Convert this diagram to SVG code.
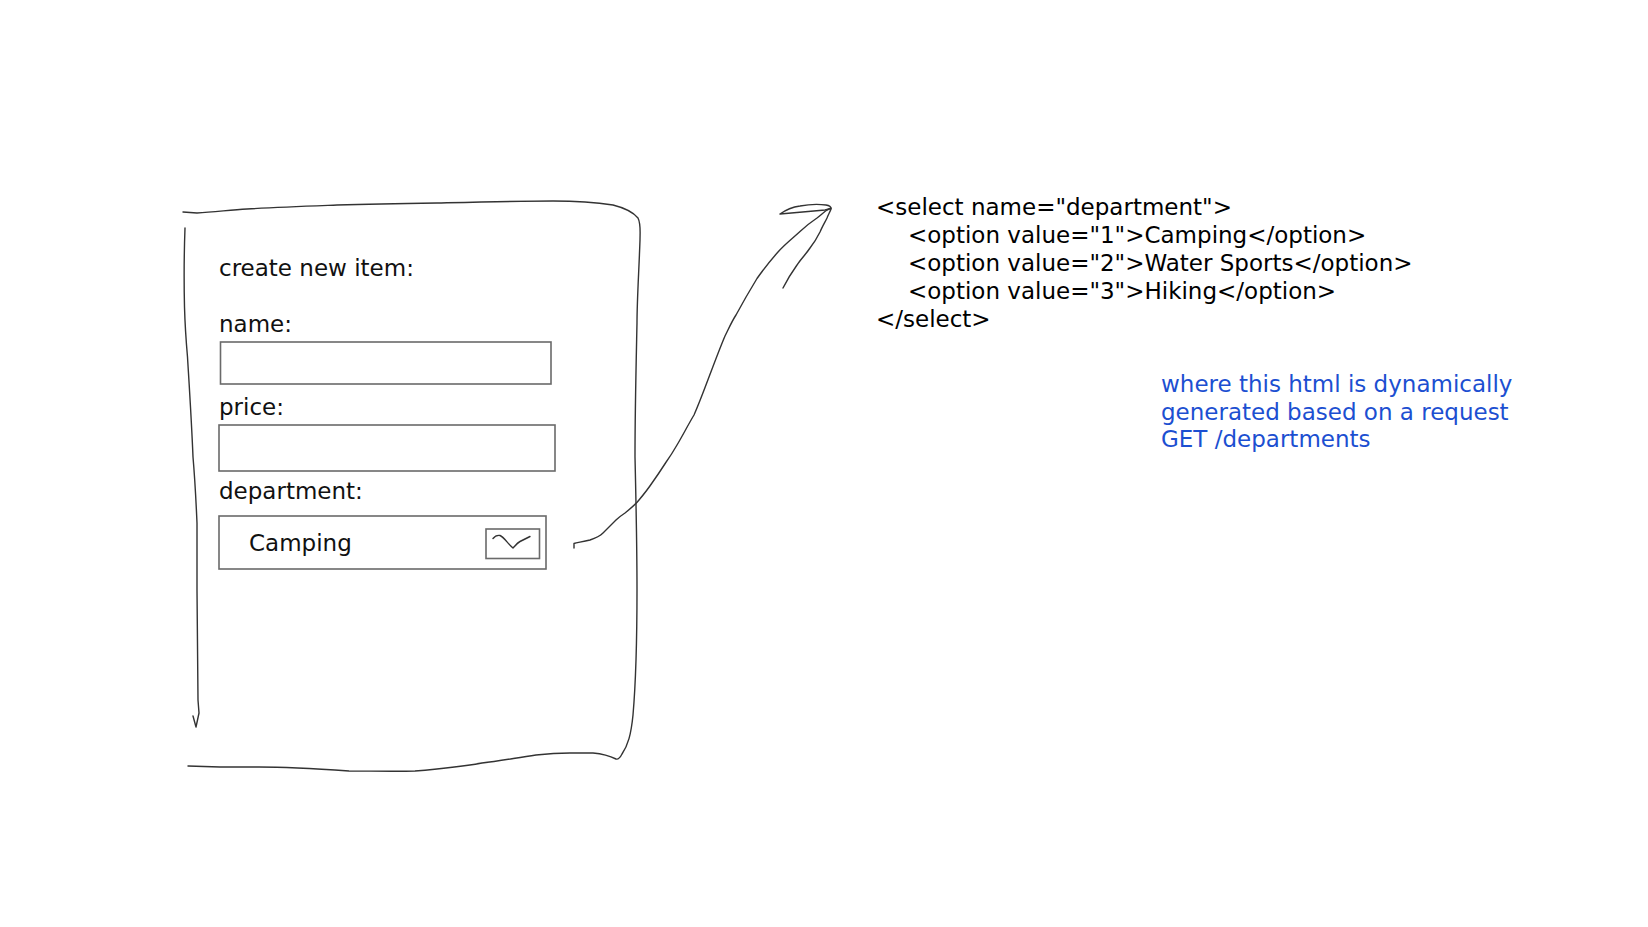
<svg xmlns="http://www.w3.org/2000/svg" width="1648" height="927" viewBox="0 0 1648 927">
<style>
  text { font-family: "DejaVu Sans", Verdana, sans-serif; font-size: 23px; fill: #111; }
  .code { font-size: 23px; fill: #000; }
  .note { fill: #1c4fd1; }
  .sketch { fill: none; stroke: #333; stroke-width: 1.4; stroke-linecap: round; stroke-linejoin: round; }
  .field { fill: #fff; stroke: #6a6a6a; stroke-width: 1.6; }
</style>
<rect width="1648" height="927" fill="#fff"/>

<g id="form">
  <path class="sketch" d="M183,212 L197,213 C215,212 230,210 247,209 C280,207 310,206 337,205 C370,204 400,203.5 437,203 C480,202 520,201 553,201 C580,201 600,203 613,205 C625,208 633,212 638,218 C641,224 640,232 640,240 C639,270 637,300 637,323 C636,370 635,410 635,457 C636,500 637,545 637,590 C637,630 636,680 633,715 C631,735 628,745 622,754 C620,758 618,759.5 616,759 C610,756 604,754 593,753 L570,753 C555,753 545,754 536,755 C515,758 500,761 482,763 C460,767 440,769 415,771 C395,771.5 370,771 349,771 C320,769 290,767 259,767 L220,767 L188,766"/>
  <path class="sketch" d="M185,228 C184,255 184,285 184.5,307 C185,325 186,340 187.5,357 C189.5,390 191.5,420 193,457 C195,480 196,500 197,523 C197,545 197,570 197,590 C197.5,630 198,670 198,700 L199,713 L196,727 L193,716"/>
</g>

<g id="labels">
  <text x="219" y="275.5">create new item:</text>
  <text x="219" y="331.5">name:</text>
  <text x="219" y="414.5">price:</text>
  <text x="219" y="499">department:</text>
</g>

<g id="name-field">
  <rect class="field" x="220.5" y="342" width="330.5" height="42"/>
</g>
<g id="price-field">
  <rect class="field" x="219" y="425" width="336" height="46"/>
</g>
<g id="department-select">
  <rect class="field" x="219" y="516" width="327" height="53"/>
  <text x="249" y="551">Camping</text>
  <rect class="field" x="486" y="529" width="53.5" height="29.5"/>
  <path class="sketch" d="M493,538.5 C495,536 497,535 500,535.5 C504,537 508,544 513,548 C515,546 517,543 520,541.5 C524,539.5 527,538 530,536.5"/>
</g>

<g id="connectors">
  <path class="sketch" d="M574,548 L574,543.5 C577,542.5 582,542 590,540 C596,538 600,536 603,533 C608,528 612,524 616,520 C619,517 622,515 625,513 C630,509 635,505 639,500 C644,494 648,489 652,483 C657,476 661,470 665.5,463 C669,458 673,452 677,445 C683,435 688,425 694,415 C703,395 714,362 725,336 C729,328 732,321 736,315 C743,302 750,290 757,278.5 C763,270 770,261 778,252 C785,244 793,238 800,231.5 C806,226 811,222 817,218 C821,215 824,212 827,210 L831,208"/>
  <path class="sketch" d="M780,214 C787,209 793,207 800,206 C808,204.5 818,204 826,205 C829,205.5 831,207 831,208.5 L825,210 L780,214"/>
  <path class="sketch" d="M831,209 C830,212 828,215 827,218 C825,222 822,227 820,232 C817,238 814,243 810,248 C806,254 801,259 797,265 C792,272 787,280 783,288"/>
</g>

<g id="code">
  <text class="code" x="876" y="215">&lt;select name="department"&gt;</text>
  <text class="code" x="908" y="243">&lt;option value="1"&gt;Camping&lt;/option&gt;</text>
  <text class="code" x="908" y="271">&lt;option value="2"&gt;Water Sports&lt;/option&gt;</text>
  <text class="code" x="908" y="299">&lt;option value="3"&gt;Hiking&lt;/option&gt;</text>
  <text class="code" x="876" y="327">&lt;/select&gt;</text>
</g>

<g id="note">
  <text class="note" x="1161" y="392">where this html is dynamically</text>
  <text class="note" x="1161" y="420">generated based on a request</text>
  <text class="note" x="1161" y="447">GET /departments</text>
</g>
</svg>
